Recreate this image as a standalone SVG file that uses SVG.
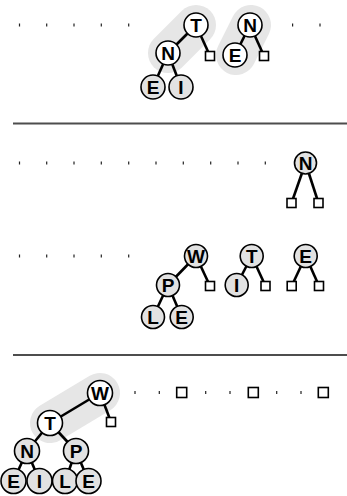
<svg xmlns="http://www.w3.org/2000/svg" width="347" height="496" viewBox="0 0 347 496">
<style>
.hl{stroke:#e6e6e6;stroke-width:40;stroke-linecap:round;fill:none}
.e{stroke:#000;stroke-width:2.6;fill:none}
.n circle{stroke:#000;stroke-width:1.6;fill:#e2e2e2}
.n.w circle{fill:#fff}
.n text{font-family:"Liberation Sans",Arial,sans-serif;font-weight:bold;font-size:19px;text-anchor:middle;fill:#000}
.sq{fill:#fff;stroke:#000;stroke-width:1.6}
.dot{fill:#222}
.rule{stroke:#4d4d4d;stroke-width:2}
</style>
<defs>
<rect id="d" class="dot" x="-0.6" y="-1.5" width="1.2" height="3"/>
<rect id="s" class="sq" x="-4.5" y="-4.5" width="9" height="9"/>
<rect id="S" class="sq" x="-5" y="-5" width="10" height="10"/>
</defs>
<g id="highlights">
<line class="hl" x1="196" y1="25" x2="168" y2="53"/>
<line class="hl" x1="251" y1="25" x2="236" y2="55"/>
<line class="hl" x1="100" y1="393" x2="50" y2="423"/>
</g>
<g id="rules">
<line class="rule" x1="13" y1="123.5" x2="347" y2="123.5"/>
<line class="rule" x1="13" y1="355" x2="347" y2="355"/>
</g>
<g id="dots">
<use href="#d" x="19.5" y="25"/><use href="#d" x="46.7" y="25"/><use href="#d" x="74" y="25"/><use href="#d" x="101.3" y="25"/><use href="#d" x="128.7" y="25"/><use href="#d" x="292.6" y="25"/><use href="#d" x="320" y="25"/>
<use href="#d" x="19.5" y="163"/><use href="#d" x="46.7" y="163"/><use href="#d" x="74" y="163"/><use href="#d" x="101.3" y="163"/><use href="#d" x="128.7" y="163"/><use href="#d" x="156" y="163"/><use href="#d" x="183.3" y="163"/><use href="#d" x="210.7" y="163"/><use href="#d" x="238" y="163"/><use href="#d" x="265.3" y="163"/>
<use href="#d" x="19.5" y="256"/><use href="#d" x="46.7" y="256"/><use href="#d" x="74" y="256"/><use href="#d" x="101.3" y="256"/><use href="#d" x="128.7" y="256"/>
<use href="#d" x="135" y="392.5"/><use href="#d" x="159.3" y="392.5"/><use href="#d" x="205.7" y="392.5"/><use href="#d" x="230" y="392.5"/><use href="#d" x="276.7" y="392.5"/><use href="#d" x="301" y="392.5"/>
</g>
<g id="connectors">
<line class="e" x1="196" y1="25" x2="168" y2="53"/>
<line class="e" x1="196" y1="25" x2="210" y2="56"/>
<line class="e" x1="168" y1="53" x2="153" y2="87"/>
<line class="e" x1="168" y1="53" x2="181" y2="87"/>
<line class="e" x1="250" y1="25" x2="235" y2="55"/>
<line class="e" x1="250" y1="25" x2="264" y2="56"/>
<line class="e" x1="305.5" y1="163" x2="291.5" y2="203"/>
<line class="e" x1="305.5" y1="163" x2="318.5" y2="203"/>
<line class="e" x1="196" y1="256" x2="168" y2="285"/>
<line class="e" x1="196" y1="256" x2="210" y2="286"/>
<line class="e" x1="168" y1="285" x2="153" y2="317"/>
<line class="e" x1="168" y1="285" x2="181.7" y2="317"/>
<line class="e" x1="251.7" y1="256" x2="236.7" y2="285"/>
<line class="e" x1="251.7" y1="256" x2="265.5" y2="286"/>
<line class="e" x1="305.7" y1="256" x2="291.7" y2="286"/>
<line class="e" x1="305.7" y1="256" x2="319" y2="286"/>
<line class="e" x1="100" y1="393" x2="50" y2="423"/>
<line class="e" x1="100" y1="393" x2="111" y2="422"/>
<line class="e" x1="50" y1="423" x2="27" y2="451"/>
<line class="e" x1="50" y1="423" x2="76" y2="451"/>
<line class="e" x1="27" y1="451" x2="13.5" y2="481"/>
<line class="e" x1="27" y1="451" x2="39.5" y2="481"/>
<line class="e" x1="76" y1="451" x2="65" y2="481"/>
<line class="e" x1="76" y1="451" x2="88.5" y2="481"/>
</g>
<g id="squares">
<use href="#s" x="210" y="56"/><use href="#s" x="264" y="56"/>
<use href="#s" x="291.5" y="203"/><use href="#s" x="318.5" y="203"/>
<use href="#s" x="210" y="286"/><use href="#s" x="265.5" y="286"/><use href="#s" x="291.7" y="286"/><use href="#s" x="319" y="286"/>
<use href="#s" x="111" y="422"/>
<use href="#S" x="181.7" y="392.5"/><use href="#S" x="253.3" y="392.5"/><use href="#S" x="323.3" y="392.5"/>
</g>
<g id="t1" class="n w"><circle cx="196" cy="25" r="12"/><text x="196" y="32">T</text></g>
<g id="n1" class="n w"><circle cx="168" cy="53" r="12"/><text x="168" y="60">N</text></g>
<g id="e1" class="n"><circle cx="153" cy="87" r="12"/><text x="153" y="94">E</text></g>
<g id="i1" class="n"><circle cx="181" cy="87" r="12"/><text x="181" y="94">I</text></g>
<g id="n2" class="n w"><circle cx="250" cy="25" r="12"/><text x="250" y="32">N</text></g>
<g id="e2" class="n w"><circle cx="235" cy="55" r="12"/><text x="235" y="62">E</text></g>
<g id="n3" class="n"><circle cx="305.5" cy="163" r="11"/><text x="305.5" y="169.5">N</text></g>
<g id="w1" class="n"><circle cx="196" cy="256" r="11.5"/><text x="196" y="263">W</text></g>
<g id="p1" class="n"><circle cx="168" cy="285" r="11.5"/><text x="168" y="292">P</text></g>
<g id="l1" class="n"><circle cx="153" cy="317" r="11.5"/><text x="153" y="324">L</text></g>
<g id="e3" class="n"><circle cx="181.7" cy="317" r="11.5"/><text x="181.7" y="324">E</text></g>
<g id="t2" class="n"><circle cx="251.7" cy="256" r="11.5"/><text x="251.7" y="263">T</text></g>
<g id="i2" class="n"><circle cx="236.7" cy="285" r="11.5"/><text x="236.7" y="292">I</text></g>
<g id="e4" class="n"><circle cx="305.7" cy="256" r="11.5"/><text x="305.7" y="263">E</text></g>
<g id="w2" class="n w"><circle cx="100" cy="393" r="12.5"/><text x="100" y="400">W</text></g>
<g id="t3" class="n w"><circle cx="50" cy="423" r="12.5"/><text x="50" y="430">T</text></g>
<g id="n4" class="n"><circle cx="27" cy="451" r="12.5"/><text x="27" y="458">N</text></g>
<g id="p2" class="n"><circle cx="76" cy="451" r="12.5"/><text x="76" y="458">P</text></g>
<g id="e5" class="n"><circle cx="13.5" cy="481" r="12.5"/><text x="13.5" y="488">E</text></g>
<g id="i3" class="n"><circle cx="39.5" cy="481" r="12.5"/><text x="39.5" y="488">I</text></g>
<g id="l2" class="n"><circle cx="65" cy="481" r="12.5"/><text x="65" y="488">L</text></g>
<g id="e6" class="n"><circle cx="88.5" cy="481" r="12.5"/><text x="88.5" y="488">E</text></g>
</svg>
